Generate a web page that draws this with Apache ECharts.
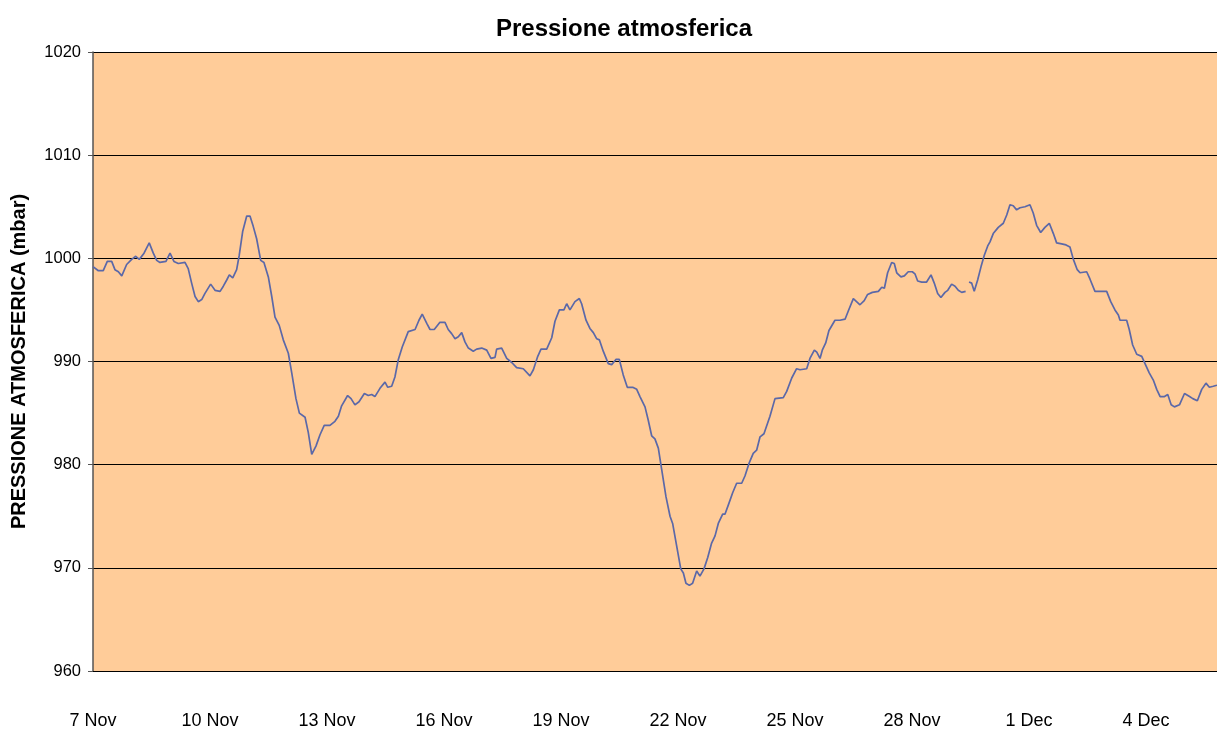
<!DOCTYPE html>
<html>
<head>
<meta charset="utf-8">
<script src="https://cdn.jsdelivr.net/npm/echarts@6/dist/echarts.min.js"></script>
<style>
html,body{margin:0;padding:0;background:#fff;}
#chart{width:1217px;height:731px;}
</style>
</head>
<body>
<div id="chart"></div>
<script>
// Hours since 7 Nov 00:00
const hours = [
0,3.3,6.3,8.8,11.5,13.5,15.6,17.7,20.7,23.8,26.3,28.5,31.4,34.6,37.1,39.2,41.2,44.9,47.4,49.8,
52.5,56.6,58.6,60.7,62.8,64.8,66.9,68.9,72.4,75.1,78.2,80.2,82.3,83.9,86.0,88.4,90.0,92.1,94.6,96.6,
98.6,100.7,103.2,105.2,107.9,110.0,112.0,114.6,117.1,120.2,122.3,124.9,127.0,130.5,132.5,134.6,137.2,
139.7,142.3,145.8,148.9,151.0,153.0,156.7,158.8,161.2,163.7,167.0,169.4,171.5,173.5,176.6,179.7,181.4,
183.8,185.8,187.9,190.3,194.0,198.2,200.6,202.6,205.4,207.4,210.0,213.5,216.6,218.6,220.7,222.8,224.8,
226.9,228.9,231.0,234.0,236.1,239.2,242.3,244.9,247.4,248.4,251.5,254.6,257.7,260.7,264.8,268.9,271.0,
273.7,275.7,279.2,282.3,284.3,287.0,289.8,291.5,293.5,296.6,299.3,300.7,303.4,305.8,307.9,310.0,311.6,
314.0,317.1,319.2,321.8,323.9,326.3,328.8,332.1,334.6,336.6,339.7,341.7,343.8,345.8,347.9,350.0,352.6,
355.1,356.7,359.2,361.7,363.3,364.9,367.0,369.0,371.5,373.5,376.0,378.3,380.7,382.8,384.8,387.5,388.9,
391.0,393.7,396.1,399.2,401.2,403.9,406.3,408.4,410.5,412.9,416.6,419.7,424.8,426.9,430.0,433.0,435.1,
439.2,441.2,443.9,445.4,447.4,448.8,450.9,452.9,456.6,459.7,462.8,464.8,467.9,472.0,474.6,476.7,479.6,
483.3,485.4,487.0,489.0,491.5,493.1,494.6,497.2,499.3,501.7,504.2,505.8,507.5,510.0,513.0,515.7,517.7,
519.8,521.8,524.3,526.0,528.4,530.5,532.5,534.6,537.0,538.0,539.1,540.7,542.3,544.4,546.5,548.5,550.6,
552.0,554.0,557.1,560.2,562.3,564.3,566.3,568.4,570.5,573.5,576.6,578.6,580.7,583.2,585.8,588.5,591.0,
593.0,596.1,598.8,601.2,603.3,605.7,607.4,611.5,613.5,616.6,619.7,623.8,626.3,628.9,631.0,632.0,636.1,
637.7,639.8,642.3,645.4,647.4,650.0,652.5,654.6,656.7,659.4,661.4,663.5,665.5,668.6,671.7,674.8,676.8,
679.6,682.3,684.9,687.0,689.4,691.7
];
// Atmospheric pressure (mbar); null = missing reading
const pressure = [
999.2,998.8,998.8,999.7,999.7,998.9,998.7,998.3,999.4,999.9,1000.2,999.9,1000.5,1001.5,1000.5,999.8,999.6,999.7,1000.5,999.7,
999.5,999.6,999.0,997.6,996.3,995.8,996.0,996.6,997.5,996.9,996.8,997.3,997.9,998.4,998.1,998.9,1000.3,1002.6,1004.1,1004.1,
1003.1,1001.9,999.8,999.6,998.2,996.3,994.3,993.5,992.1,990.8,988.9,986.4,985.0,984.6,983.1,981.0,981.8,
982.9,983.8,983.8,984.2,984.7,985.7,986.7,986.4,985.8,986.1,986.9,986.7,986.8,986.6,987.4,988.0,987.5,
987.6,988.5,990.2,991.4,992.9,993.1,994.0,994.6,993.7,993.1,993.1,993.8,993.8,993.1,992.7,992.2,992.4,
992.8,991.9,991.3,991.0,991.2,991.3,991.1,990.3,990.4,991.2,991.3,990.3,989.9,989.4,989.3,988.6,989.2,
990.5,991.2,991.2,992.3,993.9,995.0,995.0,995.6,995.0,995.8,996.1,995.6,994.0,993.2,992.8,992.2,992.1,
991.0,989.8,989.7,990.2,990.2,988.7,987.5,987.5,987.3,986.6,985.6,984.3,982.8,982.5,981.6,979.5,976.9,
975.0,974.3,972.1,969.9,969.5,968.5,968.3,968.5,969.7,969.2,969.9,971.0,972.4,973.1,974.3,975.2,975.2,
976.1,977.3,978.2,978.2,978.9,980.2,981.1,981.4,982.7,983.0,984.7,986.4,986.5,987.1,988.4,989.3,989.2,
989.3,990.3,991.1,990.9,990.3,991.1,991.8,993.0,994.0,994.0,994.1,994.9,996.1,995.5,995.9,996.5,996.7,
996.8,997.2,997.1,998.6,999.6,999.5,998.6,998.2,998.3,998.7,998.7,998.5,997.8,997.7,997.7,998.4,997.6,
996.6,996.2,996.7,996.9,997.5,997.3,996.9,996.7,996.8,null,997.7,997.6,996.8,997.9,999.2,1000.3,1001.2,
1001.6,1002.4,1003.0,1003.4,1004.2,1005.2,1005.1,1004.7,1004.9,1005.0,1005.2,1004.4,1003.2,1002.5,1003.0,1003.4,1002.4,
1001.5,1001.4,1001.3,1001.1,999.9,998.9,998.6,998.7,998.0,996.8,996.8,996.8,995.8,995.0,994.5,994.0,994.0,
993.1,991.6,990.7,990.5,989.8,988.9,988.2,987.3,986.6,986.6,986.8,985.8,985.6,985.8,986.9,986.6,986.4,
986.2,987.3,987.9,987.5,987.6,987.7
];
const xTickLabels = ['7 Nov','10 Nov','13 Nov','16 Nov','19 Nov','22 Nov','25 Nov','28 Nov','1 Dec','4 Dec'];
const yTicks = [960, 970, 980, 990, 1000, 1010, 1020];

const seriesData = hours.map((h, i) => [h, pressure[i] == null ? '-' : pressure[i]]);
const FONT = '"Liberation Sans", Arial, Helvetica, sans-serif';

const chart = echarts.init(document.getElementById('chart'), null, {renderer: 'canvas'});
chart.setOption({
  animation: false,
  backgroundColor: '#ffffff',
  title: {
    text: 'Pressione atmosferica',
    left: 619,
    top: 12,
    textAlign: 'center',
    textStyle: {fontFamily: FONT, fontSize: 24, fontWeight: 'bold', color: '#000'}
  },
  grid: {
    left: 93, right: 0, top: 52, bottom: 60,
    show: true, backgroundColor: '#FFCC99', borderWidth: 0
  },
  xAxis: {
    type: 'value',
    min: 0, max: 691.7, interval: 72,
    axisLine: {show: true, lineStyle: {color: '#000', width: 1}},
    axisTick: {show: false},
    splitLine: {show: false},
    axisLabel: {
      margin: 41,
      showMaxLabel: false,
      fontFamily: FONT, fontSize: 18, color: '#000',
      formatter: function (v) {
        const k = v / 72;
        return Number.isInteger(k) && xTickLabels[k] ? xTickLabels[k] : '';
      }
    }
  },
  yAxis: {
    type: 'value',
    min: yTicks[0], max: yTicks[yTicks.length - 1], interval: 10,
    name: 'PRESSIONE ATMOSFERICA (mbar)',
    nameLocation: 'middle',
    nameRotate: 90,
    nameGap: 64,
    nameTextStyle: {fontFamily: FONT, fontSize: 20, fontWeight: 'bold', color: '#000'},
    axisLine: {show: true, lineStyle: {color: '#555', width: 1.5}},
    axisTick: {show: true, length: 5, lineStyle: {color: '#555'}},
    splitLine: {show: true, lineStyle: {color: '#000', width: 1}},
    axisLabel: {
      margin: 12, fontFamily: FONT, fontSize: 16.5, color: '#000',
      formatter: function (v) { return String(v); }
    }
  },
  series: [{
    type: 'line',
    data: seriesData,
    symbol: 'none',
    connectNulls: false,
    lineStyle: {color: '#5B68A8', width: 1.7},
    z: 3
  }]
});
</script>
</body>
</html>
